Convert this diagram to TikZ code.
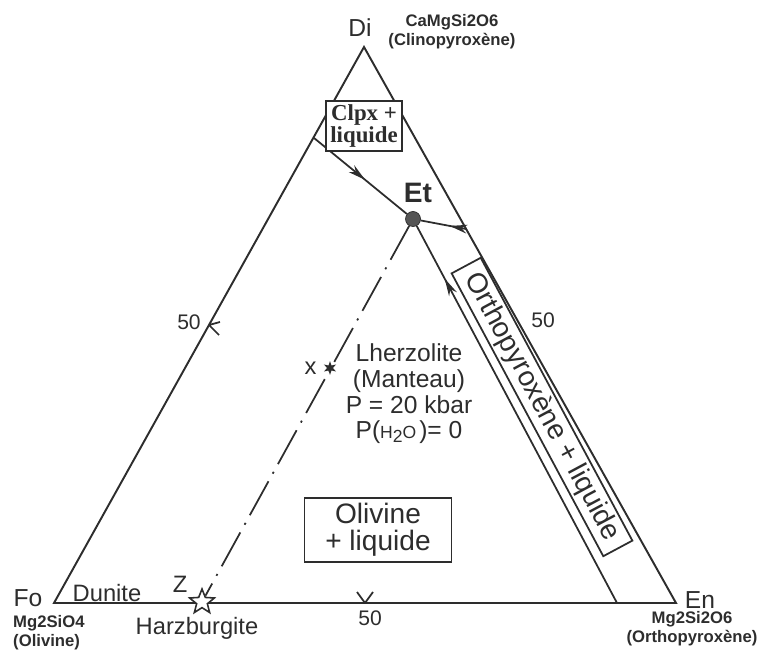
\documentclass[tikz,border=0pt]{standalone}
\usepackage{fontspec}
\setmainfont{Liberation Sans}
\newfontfamily\boxserif{Liberation Serif}
\usepackage{tikz}
\usetikzlibrary{
  arrows.meta, positioning, shapes.geometric, calc, decorations.markings,
}
\definecolor{ink}{RGB}{45,45,45}
\definecolor{etdot}{RGB}{85,85,85}
\tikzset{
  side/.style={line width=1.1pt,ink,line join=miter},
  phaseline/.style={line width=1pt,ink},
  midarrow/.style={postaction={decorate},decoration={markings,mark=at position #1 with {\arrow{Stealth[length=10pt,width=5pt]}}}},
  eutectic/.style={circle,fill=etdot,draw=ink,inner sep=0pt,minimum size=0.3cm},
  vertexlbl/.style={font=\fontsize{14}{16}\selectfont,text=ink},
  formula/.style={font=\bfseries\fontsize{9.5}{10.8}\selectfont,text=ink},
  fieldbox/.style={draw=ink,line width=1pt,fill=white,text=ink,inner sep=2pt},
  rocklbl/.style={font=\fontsize{13.5}{15}\selectfont,text=ink},
  ticklbl/.style={font=\fontsize{12}{14}\selectfont,text=ink},
  tieline/.style={line width=1pt,ink,dash pattern=on 22pt off 5pt on 1.2pt off 5pt},
  harz/.style={star,star points=5,star point ratio=2.3,draw=ink,fill=white,line width=0.9pt,inner sep=0pt,minimum size=0.52cm},
  lherz/.style={star,star points=6,star point ratio=2.4,fill=ink,inner sep=0pt,minimum size=0.28cm},
}

\begin{document}
\begin{tikzpicture}[x=0.02cm,y=-0.02cm]
  \useasboundingbox (0,0) rectangle (760,651);
  % Triangle Fo - En - Di
  \coordinate (Fo) at (54,603);
  \coordinate (En) at (676,603);
  \coordinate (Di) at (364,47);
  \draw[side] (Fo) -- (En) -- (Di) -- cycle;
  % 50 % marks
  \coordinate (halfFD) at ($(Fo)!0.5!(Di)$);
  \coordinate (halfFE) at ($(Fo)!0.5!(En)$);
  \draw[phaseline] (halfFD) -- ++(11,-3) (halfFD) -- ++(10,10);
  \draw[phaseline] (halfFE) -- ++(-8,-11) (halfFE) -- ++(8,-11);
  \node[ticklbl] (fiftyL) at (189,322) {50};
  \node[ticklbl] (fiftyR) at (543,320) {50};
  \node[ticklbl] (fiftyB) at (370,618) {50};
  % Eutectic and cotectic lines
  \node[eutectic] (Et) at (413,219) {};
  \coordinate (cpxStart) at (314,138);
  \coordinate (opxStart) at (466,229);
  \coordinate (opxEnd) at (617,603);
  \draw[phaseline,midarrow=0.55] (cpxStart) -- (Et);
  \draw[phaseline,midarrow=0.36] (opxStart) -- (Et);
  \draw[phaseline,midarrow=0.86] (opxEnd) -- (Et);
  % Melting path Z -> x -> Et
  \node[harz] (Zs) at (202,602) {};
  \draw[tieline] (Et) -- (Zs);
  \node[lherz] (X) at (330,368) {};
  \node[font=\bfseries\fontsize{16}{18}\selectfont,text=ink] (EtLbl) at (418,193) {Et};
  \node[rocklbl,left=0.08cm of X] (xLbl) {x};
  \node[rocklbl] (zLbl) at (180,584) {Z};
  \node[rocklbl] (dunLbl) at (107,593) {Dunite};
  \node[rocklbl] (harzLbl) at (197,628) {Harzburgite};
  \node[rocklbl,align=center,font=\fontsize{14}{14.6}\selectfont] (lherzLbl) at (409,394)
    {Lherzolite\\(Manteau)\\P = 20 kbar\\P({\fontsize{10}{10}\selectfont H\raisebox{-0.4ex}{2}O\,})= 0};
  % Phase fields
  \node[fieldbox,font=\boxserif\bfseries\fontsize{13}{10.8}\selectfont,align=center,
    minimum width=1.52cm,minimum height=0.94cm] (clpx) at (364,126) {Clpx +\\liquide};
  \node[fieldbox,font=\fontsize{16}{15.4}\selectfont,align=center,
    minimum width=2.94cm,minimum height=1.28cm] (olv) at (378,530) {Olivine\\+ liquide};
  \node[fieldbox,font=\fontsize{16}{18}\selectfont,rotate=-61.8,inner sep=1pt,
    minimum width=6.42cm,minimum height=0.66cm] (opx) at (542,407) {Orthopyroxène + liquide};
  % End members
  \node[vertexlbl] (DiLbl) at (360,28) {Di};
  \node[vertexlbl] (FoLbl) at (28,598) {Fo};
  \node[vertexlbl] (EnLbl) at (700,600) {En};
  \node[formula,align=center] (DiForm) at (452,32) {CaMgSi2O6\\(Clinopyroxène)};
  \node[formula,align=left,anchor=west] (FoForm) at (7,633) {Mg2SiO4\\(Olivine)};
  \node[formula,align=center] (EnForm) at (692,629) {Mg2Si2O6\\(Orthopyroxène)};
\end{tikzpicture}
\end{document}
